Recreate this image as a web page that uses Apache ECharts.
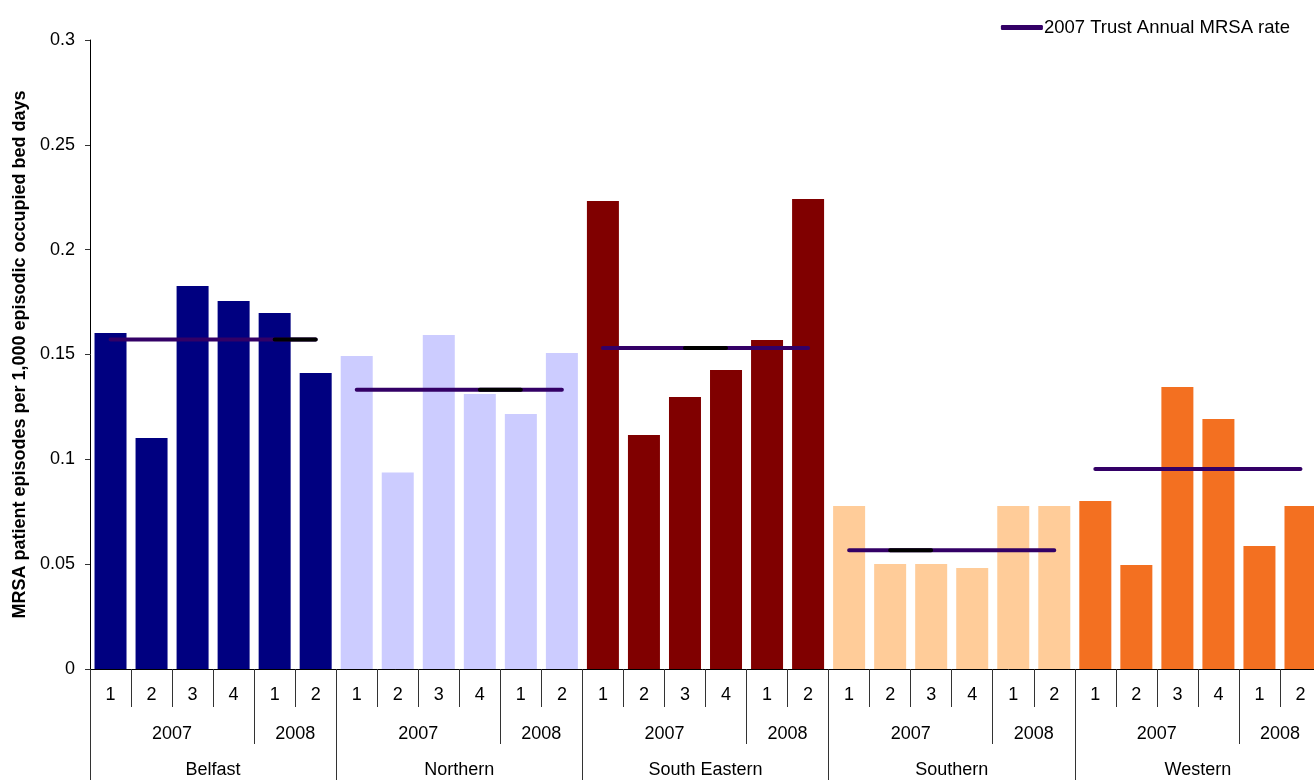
<!DOCTYPE html>
<html>
<head>
<meta charset="utf-8">
<script src="https://cdn.jsdelivr.net/npm/echarts@6/dist/echarts.min.js"></script>
<style>
html,body{margin:0;padding:0;background:#fff;}
#chart{width:1314px;height:780px;}
</style>
</head>
<body>
<div id="chart"></div>
<script>
// ---- data ----
const trusts = ['Belfast', 'Northern', 'South Eastern', 'Southern', 'Western'];
const quarterLabels = ['1', '2', '3', '4', '1', '2'];
const yearLabels = ['2007', '2008'];
const belfast = [0.1602, 0.1102, 0.1827, 0.1755, 0.1698, 0.1412];
const northern = [0.1493, 0.0937, 0.1593, 0.1312, 0.1216, 0.1507];
const southEastern = [0.2232, 0.1116, 0.1297, 0.1426, 0.1569, 0.2242];
const southern = [0.0777, 0.0501, 0.0501, 0.0482, 0.0777, 0.0777];
const western = [0.0801, 0.0496, 0.1345, 0.1192, 0.0587, 0.0777];
const annualRate2007 = [0.1571, 0.1332, 0.1531, 0.0566, 0.0954];
const rateName = '2007 Trust Annual MRSA rate';
// quarter (within trust) where a dark overlap segment of the rate line starts; -1 none
const overlapStart = [4, 3, 2, 1, -1];

// ---- build ----
const trustValues = [belfast, northern, southEastern, southern, western];
const trustColors = ['#000080', '#CCCCFF', '#800000', '#FFCC99', '#F37021'];
const perTrust = quarterLabels.length;
const nCat = trusts.length * perTrust;
const quarterCat = [], yearCat = [], trustCat = [];
const yearStarts = [], trustStarts = [];
trusts.forEach((t, ti) => {
  quarterLabels.forEach((q, qi) => {
    quarterCat.push(q);
    yearCat.push(qi === 1 ? yearLabels[0] : (qi === 4 ? yearLabels[1] : ''));
    trustCat.push(qi === 2 ? t : '');
  });
  trustStarts.push(ti * perTrust);
  yearStarts.push(ti * perTrust, ti * perTrust + 4);
});
const barData = [];
trustValues.forEach((arr, ti) => arr.forEach(v => barData.push({value: v, itemStyle: {color: trustColors[ti]}})));

const lineSeries = trusts.map((t, ti) => {
  const d = new Array(nCat).fill(null);
  for (let q = 0; q < perTrust; q++) d[ti * perTrust + q] = annualRate2007[ti];
  return {
    name: rateName, type: 'line', data: d, symbol: 'none', showSymbol: false, connectNulls: false,
    lineStyle: {color: '#330066', width: 4, cap: 'round'}, itemStyle: {color: '#330066'},
    z: 5, silent: true
  };
});
const overlap = new Array(nCat).fill(null);
overlapStart.forEach((s, ti) => {
  if (s >= 0) { overlap[ti * perTrust + s] = annualRate2007[ti]; overlap[ti * perTrust + s + 1] = annualRate2007[ti]; }
});

const FONT = '"Liberation Sans", Arial, sans-serif';
const shiftedLabel = v => v ? '{a|' + v + '}' : '';
const richShift = {a: {padding: [0, 0, 0, 41], fontSize: 18, fontFamily: FONT, color: '#000'}};

const chart = echarts.init(document.getElementById('chart'));
chart.setOption({
  animation: false,
  textStyle: {fontFamily: FONT},
  grid: {left: 90, right: -7, top: 40, bottom: 111, containLabel: false, outerBoundsMode: 'none'},
  legend: {
    data: [{name: rateName, icon: 'roundRect'}], right: 19, top: 13, itemWidth: 42, itemHeight: 5, itemGap: 4,
    itemStyle: {color: '#330066'},
    textStyle: {fontSize: 18.5, color: '#000', fontFamily: FONT, padding: [0, 0, 0, -4]}
  },
  xAxis: [
    {
      type: 'category', data: quarterCat, position: 'bottom',
      axisLine: {show: true, lineStyle: {color: '#000', width: 1}},
      axisTick: {show: true, interval: 0, length: 38, lineStyle: {color: '#333'}},
      axisLabel: {interval: 0, margin: 17, fontSize: 18, color: '#000', fontFamily: FONT},
      splitLine: {show: false}
    },
    {
      type: 'category', data: yearCat, position: 'bottom',
      axisLine: {show: false},
      axisTick: {show: true, interval: (i) => yearStarts.indexOf(i) >= 0, length: 75, lineStyle: {color: '#333'}},
      axisLabel: {interval: 0, margin: 56, formatter: shiftedLabel, rich: richShift},
      splitLine: {show: false}
    },
    {
      type: 'category', data: trustCat, position: 'bottom',
      axisLine: {show: false},
      axisTick: {show: true, interval: (i) => trustStarts.indexOf(i) >= 0, length: 130, lineStyle: {color: '#333'}},
      axisLabel: {interval: 0, margin: 92, formatter: shiftedLabel, rich: richShift},
      splitLine: {show: false}
    }
  ],
  yAxis: {
    type: 'value', min: 0, max: 0.3, interval: 0.05,
    name: 'MRSA patient episodes per 1,000 episodic occupied bed days',
    nameLocation: 'middle', nameRotate: 90, nameGap: 60,
    nameTextStyle: {fontSize: 18, fontWeight: 'bold', color: '#000', fontFamily: FONT},
    axisLine: {show: true, lineStyle: {color: '#000', width: 1}},
    axisTick: {show: true, length: 5, lineStyle: {color: '#333'}},
    axisLabel: {fontSize: 18, color: '#000', margin: 15, fontFamily: FONT},
    splitLine: {show: false}
  },
  series: [
    {type: 'bar', name: 'rates', data: barData, barWidth: 32, xAxisIndex: 0, z: 2, silent: true}
  ].concat(lineSeries).concat([
    {type: 'line', name: 'overlap', data: overlap, symbol: 'none', connectNulls: false,
     lineStyle: {color: '#000', width: 4, cap: 'round'}, z: 6, silent: true}
  ])
});
</script>
</body>
</html>
